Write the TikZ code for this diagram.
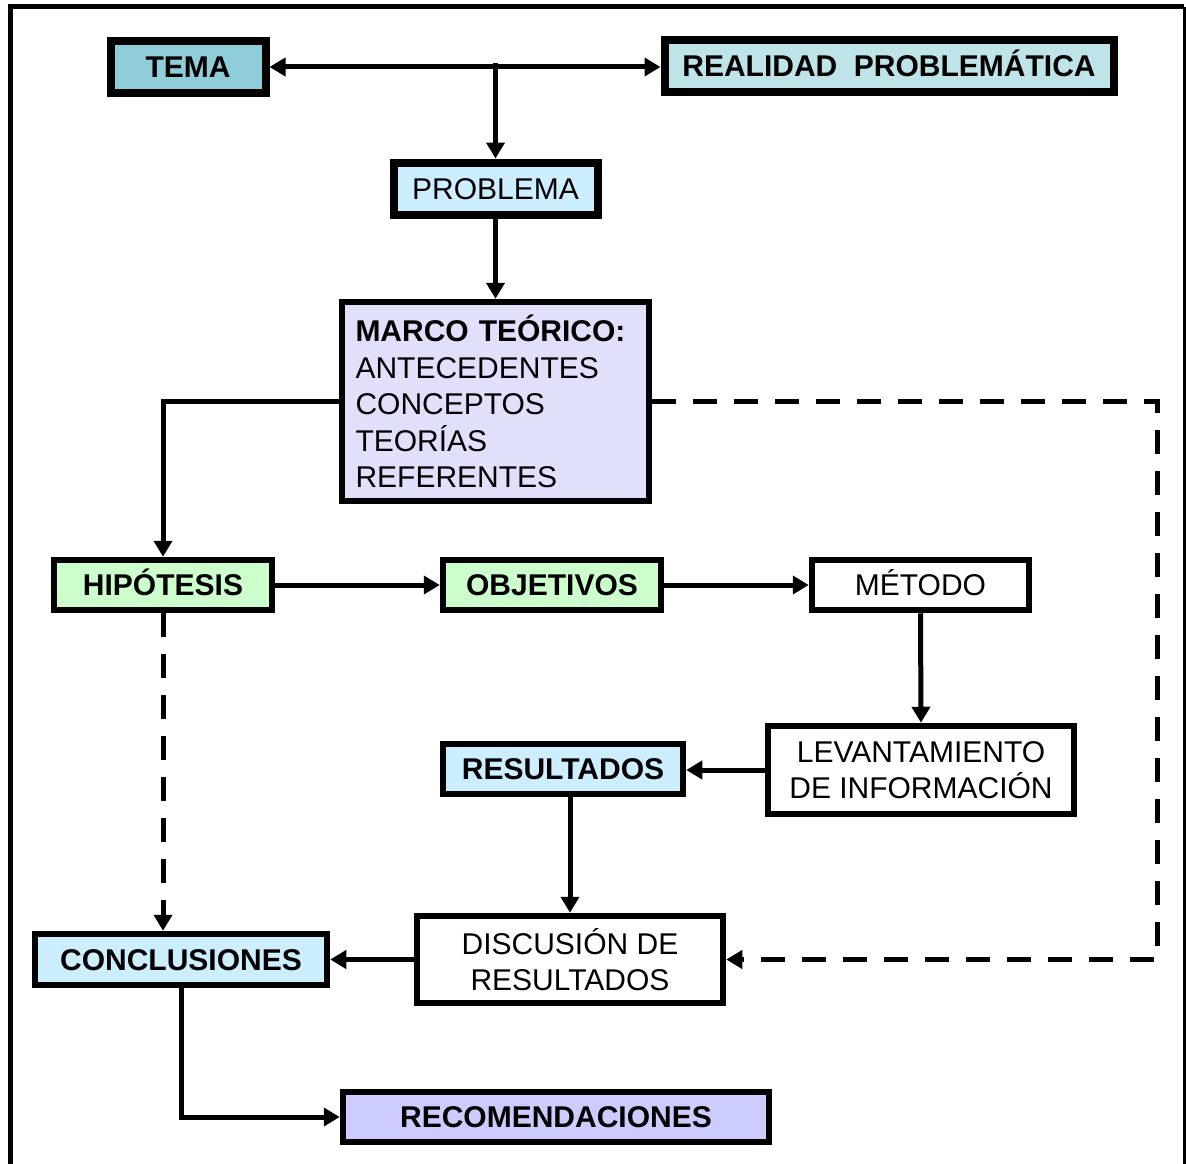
\documentclass[tikz,border=0pt]{standalone}
\usepackage{fontspec}
\setmainfont{Liberation Sans}
\usetikzlibrary{arrows.meta}
\definecolor{cTema}{HTML}{8FCDD9}
\definecolor{cReal}{HTML}{BEE3E8}
\definecolor{cBlue}{HTML}{CCEEFF}
\definecolor{cMarco}{HTML}{E0E0FA}
\definecolor{cGreen}{HTML}{CCFFCC}
\definecolor{cRec}{HTML}{CCCCFF}
\begin{document}
\begin{tikzpicture}[x=1pt,y=-1pt,
  box/.style={draw=black, line width=6.5pt, inner sep=0pt, align=center,
    font=\fontsize{30}{36.5}\selectfont},
  one/.style={text height=21.5pt, text depth=0pt},
  bbox/.style={box, one, font=\fontsize{30}{36.5}\selectfont\bfseries},
  heavy/.style={line width=8pt},
  tip/.style={},
  conn/.style={line width=5pt, -{Triangle[length=16pt,width=18pt]}},
  dconn/.style={conn, dash pattern=on 24pt off 17pt},
]
\useasboundingbox (0,0) rectangle (1186,1164);
% outer frame
\draw[line width=5pt] (10,1170) -- (10,7) -- (1184,7);
\draw[line width=3pt] (1184,7) -- (1184,1170);

\node[bbox, heavy, fill=cTema, minimum width=155pt, minimum height=51pt] (tema) at (188,67) {TEMA};
\node[bbox, heavy, fill=cReal, minimum width=449pt, minimum height=51pt] (real) at (889,66) {REALIDAD\ \ PROBLEM\'ATICA};
\node[box, one, heavy, fill=cBlue, minimum width=204pt, minimum height=52pt] (prob) at (495.5,188.5) {PROBLEMA};
\node[box, fill=cMarco, minimum width=307pt, minimum height=199pt, text width=280pt, inner xsep=13pt, align=left] (marco) at (495.5,401.5)
  {\textbf{MARCO TE\'ORICO:}\\ANTECEDENTES\\CONCEPTOS\\TEOR\'IAS\\REFERENTES};
\node[bbox, fill=cGreen, minimum width=218pt, minimum height=50pt] (hip) at (163,585) {HIP\'OTESIS};
\node[bbox, fill=cGreen, minimum width=218pt, minimum height=50pt] (obj) at (552,585) {OBJETIVOS};
\node[box, one, fill=white, minimum width=217pt, minimum height=50pt] (met) at (920.5,585) {M\'ETODO};
\node[box, fill=white, minimum width=306pt, minimum height=88pt] (lev) at (921,770) {LEVANTAMIENTO\\DE INFORMACI\'ON};
\node[bbox, fill=cBlue, minimum width=240pt, minimum height=50pt] (res) at (563,769) {RESULTADOS};
\node[box, fill=white, minimum width=306pt, minimum height=87pt] (dis) at (570,959.5) {DISCUSI\'ON DE\\RESULTADOS};
\node[bbox, fill=cBlue, minimum width=292pt, minimum height=51pt] (con) at (181,959.5) {CONCLUSIONES};
\node[bbox, fill=cRec, minimum width=426pt, minimum height=50pt] (rec) at (556,1117) {RECOMENDACIONES};

% connectors
\draw[line width=5pt, {Triangle[length=16pt,width=18pt]}-{Triangle[length=16pt,width=18pt]}] (tema.east) -- (tema.east -| real.west);
\coordinate (j) at (prob.north |- tema.east);
\draw[conn] ([yshift=4pt]j) -- (prob.north);
\draw[conn] (prob.south) -- (marco.north);
\draw[conn] (marco.west) -| (hip.north);
\coordinate (dr) at (1157,401.5);
\draw[dconn] (marco.east) -- (dr) |- (dis.east);
\draw[conn] (hip.east) -- (obj.west);
\draw[conn] (obj.east) -- (met.west);
\draw[conn] (met.south) -- (lev.north);
\draw[conn] (lev.west) -- (lev.west -| res.east);
\draw[conn] (dis.north |- res.south) -- (dis.north);
\draw[conn] (dis.west) -- (dis.west -| con.east);
\draw[dconn] (hip.south) -- (hip.south |- con.north);
\draw[conn] (con.south) |- (rec.west);
\end{tikzpicture}
\end{document}
